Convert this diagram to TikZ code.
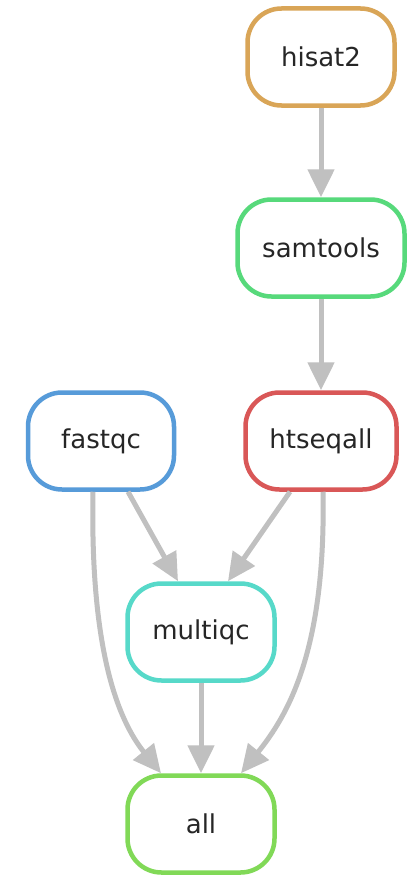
\documentclass[tikz,border=0pt]{standalone}
\usepackage{fontspec}
\setmainfont{DejaVu Sans}
\usetikzlibrary{arrows.meta}
\definecolor{chisat}{HTML}{D9A557}
\definecolor{csam}{HTML}{57D97B}
\definecolor{chtseq}{HTML}{D95757}
\definecolor{cfastqc}{HTML}{579BD9}
\definecolor{cmulti}{HTML}{57D9C9}
\definecolor{call}{HTML}{81D957}
\definecolor{cedge}{HTML}{C0C0C0}
\definecolor{ctext}{HTML}{262626}
\tikzset{
  rule/.style={draw, line width=4.5pt, rounded corners=34pt, fill=white,
    minimum height=97pt, text=ctext, inner sep=0pt,
    font=\fontsize{26}{30}\selectfont},
  dep/.style={draw=cedge, line width=5pt,
    -{Triangle[length=28pt,width=26pt,fill=cedge]}},
}
\begin{document}
\begin{tikzpicture}[x=1pt,y=-1pt]
\useasboundingbox[fill=white] (0,0) rectangle (416,875);

\node[rule, draw=chisat,  minimum width=147pt] (hisat2)   at (321,57)  {hisat2};
\node[rule, draw=csam,    minimum width=167pt] (samtools) at (321,248) {samtools};
\node[rule, draw=cfastqc, minimum width=146pt] (fastqc)   at (101,441) {fastqc};
\node[rule, draw=chtseq,  minimum width=151pt] (htseqall) at (321,441) {htseqall};
\node[rule, draw=cmulti,  minimum width=147pt] (multiqc)  at (201,632) {multiqc};
\node[rule, draw=call,    minimum width=147pt] (all)      at (201,824) {all};

\draw[dep] (hisat2.south) -- (samtools.north);
\draw[dep] (samtools.south) -- (htseqall.north);
\draw[dep] ([xshift=27pt]fastqc.south) -- ([xshift=-23pt]multiqc.north);
\draw[dep] ([xshift=-31pt]htseqall.south) -- ([xshift=27pt]multiqc.north);
\draw[dep] (multiqc.south) -- (all.north);
\draw[dep] ([xshift=-8pt]fastqc.south)
  .. controls (90,650) and (118,720) .. ([xshift=-40pt]all.north);
\draw[dep] ([xshift=2pt]htseqall.south)
  .. controls (326,650) and (288,715) .. ([xshift=40pt]all.north);
\end{tikzpicture}
\end{document}
